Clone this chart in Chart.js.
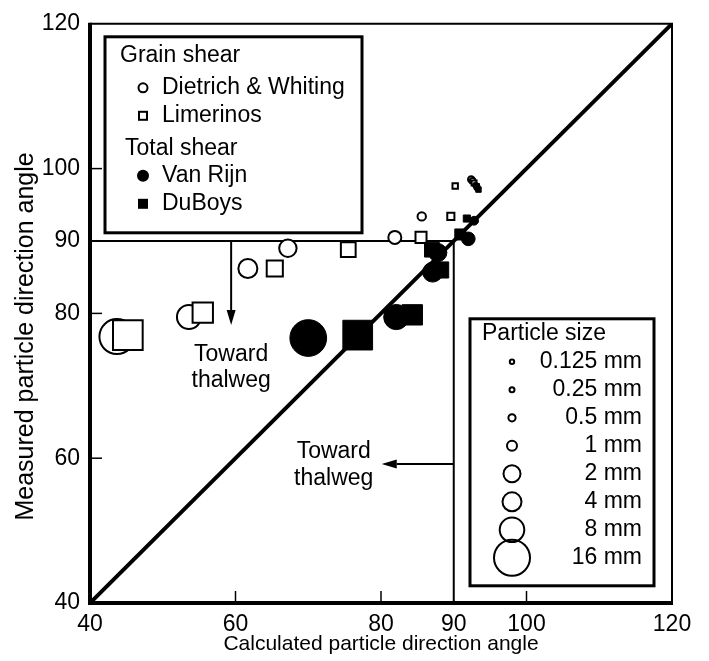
<!DOCTYPE html>
<html>
<head>
<meta charset="utf-8">
<script src="https://cdn.jsdelivr.net/npm/chart.js@4.4.1/dist/chart.umd.min.js"></script>
<style>
  html, body { margin: 0; padding: 0; background: #fff; }
</style>
</head>
<body>
<canvas id="chart" width="709" height="661"></canvas>
<script>
// particle size (mm) of each point, same order in every series
var particleSizes = [16, 8, 4, 2, 1, 0.5, 0.25, 0.125];

// grain shear
var dietrichX = [43.7, 53.6, 61.7, 67.2, 81.9, 85.6, 92.4, 92.6];
var dietrichY = [76.8, 79.5, 86.2, 89.0, 90.5, 93.4, 98.5, 98.3];
var limerinosX = [45.2, 55.5, 65.4, 75.5, 85.5, 89.6, 90.2, 92.8];
var limerinosY = [77.0, 80.1, 86.2, 88.8, 90.5, 93.4, 97.6, 98.0];

// total shear
var vanRijnX = [70.0, 82.1, 87.1, 87.8, 92.0, 92.8, 93.2, 93.0];
var vanRijnY = [76.6, 79.5, 85.7, 88.4, 90.3, 92.8, 97.4, 97.7];
var duBoysX = [76.8, 84.3, 88.2, 87.0, 90.9, 91.8, 93.4, 93.2];
var duBoysY = [77.0, 79.8, 86.0, 88.8, 90.9, 93.1, 97.1, 97.6];

var tickValues = [40, 60, 80, 90, 100, 120];
var innerTicks = [60, 80, 100];

var FONT = '"Liberation Sans", Arial, Helvetica, sans-serif';

// marker radius in px for each particle size
var markerRadius = {16: 17.5, 8: 12, 4: 9.5, 2: 8.7, 1: 6.5, 0.5: 4.2, 0.25: 3.2, 0.125: 2.9};
var legendRadius = {16: 18, 8: 12.3, 4: 9.5, 2: 8.5, 1: 5, 0.5: 3.6, 0.25: 2.5, 0.125: 2.2};

function pts(xs, ys) {
  return xs.map(function (x, i) { return {x: x, y: ys[i]}; });
}
function radii(scale) {
  return particleSizes.map(function (s) { return markerRadius[s] * scale; });
}

function arrow(ctx, x1, y1, x2, y2) {
  var ang = Math.atan2(y2 - y1, x2 - x1), len = 15, w = 4.5;
  var bx = x2 - len * Math.cos(ang), by = y2 - len * Math.sin(ang);
  ctx.beginPath(); ctx.moveTo(x1, y1); ctx.lineTo(bx, by); ctx.stroke();
  ctx.beginPath();
  ctx.moveTo(x2, y2);
  ctx.lineTo(bx + w * Math.sin(ang), by - w * Math.cos(ang));
  ctx.lineTo(bx - w * Math.sin(ang), by + w * Math.cos(ang));
  ctx.closePath(); ctx.fill();
}

var annotate = {
  id: 'annotate',
  afterDraw: function (chart) {
    var ctx = chart.ctx, xs = chart.scales.x, ys = chart.scales.y, a = chart.chartArea;
    ctx.save();
    ctx.strokeStyle = '#000';
    ctx.fillStyle = '#000';

    // frame
    ctx.lineWidth = 2;
    ctx.beginPath(); ctx.moveTo(a.left, a.top); ctx.lineTo(a.right, a.top); ctx.lineTo(a.right, a.bottom); ctx.stroke();
    ctx.lineWidth = 4;
    ctx.beginPath(); ctx.moveTo(a.left, a.top - 1); ctx.lineTo(a.left, a.bottom); ctx.lineTo(a.right + 1, a.bottom); ctx.stroke();

    // inward ticks
    ctx.lineWidth = 1.5;
    innerTicks.forEach(function (v) {
      var px = xs.getPixelForValue(v), py = ys.getPixelForValue(v);
      ctx.beginPath(); ctx.moveTo(px, a.bottom); ctx.lineTo(px, a.bottom - 12); ctx.stroke();
      ctx.beginPath(); ctx.moveTo(a.left, py); ctx.lineTo(a.left + 12, py); ctx.stroke();
    });

    // axis titles
    ctx.textAlign = 'center';
    ctx.textBaseline = 'alphabetic';
    ctx.font = '21px ' + FONT;
    ctx.fillText('Calculated particle direction angle', (a.left + a.right) / 2, 650);
    ctx.save();
    ctx.translate(33, (a.top + a.bottom) / 2 + 23);
    ctx.rotate(-Math.PI / 2);
    ctx.font = '25px ' + FONT;
    ctx.fillText('Measured particle direction angle', 0, 0);
    ctx.restore();

    // arrows toward thalweg
    ctx.lineWidth = 2;
    arrow(ctx, xs.getPixelForValue(59.4), ys.getPixelForValue(90), xs.getPixelForValue(59.4), ys.getPixelForValue(78.4));
    arrow(ctx, xs.getPixelForValue(90), ys.getPixelForValue(59.2), xs.getPixelForValue(80.1), ys.getPixelForValue(59.2));

    ctx.font = '23px ' + FONT;
    ctx.textAlign = 'center';
    ctx.textBaseline = 'middle';
    ctx.fillText('Toward', xs.getPixelForValue(59.4), ys.getPixelForValue(74.3));
    ctx.fillText('thalweg', xs.getPixelForValue(59.4), ys.getPixelForValue(70.7));
    ctx.fillText('Toward', xs.getPixelForValue(73.5), ys.getPixelForValue(60.9));
    ctx.fillText('thalweg', xs.getPixelForValue(73.5), ys.getPixelForValue(57.2));

    // method legend
    var lx = a.left + 15, ly = a.top + 13;
    ctx.fillStyle = '#fff';
    ctx.fillRect(lx, ly, 257, 196);
    ctx.lineWidth = 3;
    ctx.strokeRect(lx, ly, 257, 196);
    ctx.fillStyle = '#000';
    ctx.textAlign = 'left';
    ctx.fillText('Grain shear', lx + 15, ly + 19);
    ctx.fillText('Dietrich & Whiting', lx + 57, ly + 51);
    ctx.fillText('Limerinos', lx + 57, ly + 79);
    ctx.fillText('Total shear', lx + 20, ly + 112);
    ctx.fillText('Van Rijn', lx + 57, ly + 139);
    ctx.fillText('DuBoys', lx + 57, ly + 167);
    ctx.lineWidth = 2;
    ctx.beginPath(); ctx.arc(lx + 38, ly + 51, 4.5, 0, Math.PI * 2); ctx.stroke();
    ctx.strokeRect(lx + 34, ly + 75, 8, 8);
    ctx.beginPath(); ctx.arc(lx + 38, ly + 139, 6, 0, Math.PI * 2); ctx.fill();
    ctx.fillRect(lx + 33, ly + 162, 10, 10);

    // particle size legend
    var px0 = a.left + 380, py0 = a.top + 295;
    ctx.fillStyle = '#fff';
    ctx.fillRect(px0, py0, 184, 267);
    ctx.lineWidth = 3;
    ctx.strokeRect(px0, py0, 184, 267);
    ctx.fillStyle = '#000';
    ctx.textAlign = 'left';
    ctx.fillText('Particle size', px0 + 12, py0 + 15);
    ctx.textAlign = 'right';
    ctx.lineWidth = 2;
    particleSizes.slice().reverse().forEach(function (s, i) {
      var cy = py0 + 43 + i * 28;
      ctx.beginPath(); ctx.arc(px0 + 42, cy, legendRadius[s], 0, Math.PI * 2); ctx.stroke();
      ctx.fillText(s + ' mm', px0 + 172, cy);
    });
    ctx.restore();
  }
};

var ctx = document.getElementById('chart').getContext('2d');
var chart = new Chart(ctx, {
  type: 'scatter',
  data: {
    datasets: [
      {
        label: 'Dietrich & Whiting', data: pts(dietrichX, dietrichY),
        pointStyle: 'circle', pointRadius: radii(1),
        backgroundColor: '#fff', borderColor: '#000', borderWidth: 2, order: 4
      },
      {
        label: 'Limerinos', data: pts(limerinosX, limerinosY),
        pointStyle: 'rect', pointRadius: radii(1.2),
        backgroundColor: '#fff', borderColor: '#000', borderWidth: 2, order: 3
      },
      {
        label: 'Van Rijn', data: pts(vanRijnX, vanRijnY),
        pointStyle: 'circle', pointRadius: radii(1.05),
        backgroundColor: '#000', borderColor: '#000', borderWidth: 1, order: 2
      },
      {
        label: 'DuBoys', data: pts(duBoysX, duBoysY),
        pointStyle: 'rect', pointRadius: radii(1.2),
        backgroundColor: '#000', borderColor: '#000', borderWidth: 1, order: 1
      },
      {
        type: 'line', label: '1:1', data: [{x: 40, y: 40}, {x: 120, y: 120}],
        borderColor: '#000', borderWidth: 4, pointRadius: 0, order: 10
      },
      {
        type: 'line', label: 'measured 90', data: [{x: 40, y: 90}, {x: 90, y: 90}],
        borderColor: '#000', borderWidth: 2, pointRadius: 0, order: 11
      },
      {
        type: 'line', label: 'calculated 90', data: [{x: 90, y: 40}, {x: 90, y: 90}],
        borderColor: '#000', borderWidth: 2, pointRadius: 0, order: 12
      }
    ]
  },
  options: {
    responsive: false,
    animation: false,
    layout: { padding: { top: 20, right: 37, left: 0, bottom: 0 } },
    plugins: { legend: { display: false }, tooltip: { enabled: false } },
    scales: {
      x: {
        type: 'linear', min: 40, max: 120,
        afterBuildTicks: function (s) { s.ticks = tickValues.map(function (v) { return {value: v}; }); },
        afterFit: function (s) { s.height = 58; },
        grid: { display: false, drawTicks: false },
        border: { display: false },
        ticks: { color: '#000', padding: 8, maxRotation: 0, font: { size: 23, family: FONT } }
      },
      y: {
        type: 'linear', min: 40, max: 120,
        afterBuildTicks: function (s) { s.ticks = tickValues.map(function (v) { return {value: v}; }); },
        afterFit: function (s) { s.width = 90; },
        grid: { display: false, drawTicks: false },
        border: { display: false },
        ticks: { color: '#000', padding: 10, font: { size: 23, family: FONT } }
      }
    }
  },
  plugins: [annotate]
});
</script>
</body>
</html>
